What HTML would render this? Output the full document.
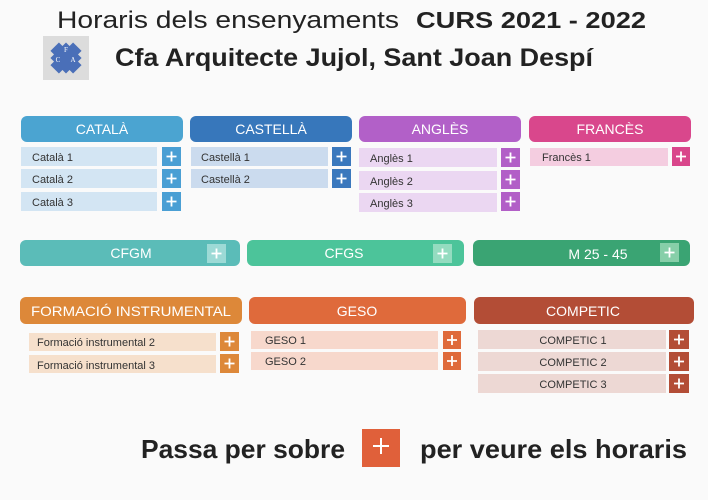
<!DOCTYPE html>
<html><head><meta charset="utf-8">
<style>
html,body{margin:0;padding:0;background:#fafafa;}
svg{display:block;font-family:"Liberation Sans",sans-serif;}
</style></head>
<body>
<svg width="708" height="500" viewBox="0 0 708 500" xmlns="http://www.w3.org/2000/svg">
<rect width="708" height="500" fill="#fafafa"/>
<defs>
<g id="plus"><path d="M-5 0H5M0 -5V5" stroke="#fff" stroke-width="1.8"/></g>
</defs>

<!-- Title -->
<text x="57" y="28" font-size="24" fill="#222" textLength="342" lengthAdjust="spacingAndGlyphs">Horaris dels ensenyaments</text>
<text x="416" y="28" font-size="23" font-weight="bold" fill="#222" textLength="230" lengthAdjust="spacingAndGlyphs">CURS 2021 - 2022</text>
<text x="115" y="66" font-size="25" font-weight="bold" fill="#222" textLength="478" lengthAdjust="spacingAndGlyphs">Cfa Arquitecte Jujol, Sant Joan Despí</text>
<!-- logo -->
<rect x="43" y="36" width="46" height="44" fill="#dcdcdc"/>
<g transform="translate(66,58) rotate(45)">
<rect x="-16" y="-6" width="32" height="12" fill="#4a6fb8"/>
<rect x="-6" y="-16" width="12" height="32" fill="#4a6fb8"/>
<rect x="-11" y="-11" width="22" height="22" fill="#4a6fb8"/>
</g>
<text x="66" y="52" font-size="7" fill="#fff" text-anchor="middle" font-family="Liberation Serif,serif">F</text>
<text x="58" y="62" font-size="7" fill="#fff" text-anchor="middle" font-family="Liberation Serif,serif">C</text>
<text x="73" y="62" font-size="7" fill="#fff" text-anchor="middle" font-family="Liberation Serif,serif">A</text>

<!-- Row 1 headers -->
<rect x="21" y="116" width="162" height="26" rx="6" fill="#4ba4d1"/>
<text x="102" y="134" font-size="14" fill="#fff" text-anchor="middle">CATALÀ</text>
<rect x="190" y="116" width="162" height="26" rx="6" fill="#3777bb"/>
<text x="271" y="134" font-size="14" fill="#fff" text-anchor="middle">CASTELLÀ</text>
<rect x="359" y="116" width="162" height="26" rx="6" fill="#b260c8"/>
<text x="440" y="134" font-size="14" fill="#fff" text-anchor="middle">ANGLÈS</text>
<rect x="529" y="116" width="162" height="26" rx="6" fill="#d9478c"/>
<text x="610" y="134" font-size="14" fill="#fff" text-anchor="middle">FRANCÈS</text>

<g font-size="11" fill="#333">
<!-- Català -->
<rect x="21" y="147" width="136" height="19" fill="#d3e5f3"/><text x="32" y="161">Català 1</text>
<rect x="162" y="147" width="19" height="19" fill="#4a9fd4"/><use href="#plus" x="171.5" y="156.5"/>
<rect x="21" y="169" width="136" height="19" fill="#d3e5f3"/><text x="32" y="183">Català 2</text>
<rect x="162" y="169" width="19" height="19" fill="#4a9fd4"/><use href="#plus" x="171.5" y="178.5"/>
<rect x="21" y="192" width="136" height="19" fill="#d3e5f3"/><text x="32" y="206">Català 3</text>
<rect x="162" y="192" width="19" height="19" fill="#4a9fd4"/><use href="#plus" x="171.5" y="201.5"/>
<!-- Castellà -->
<rect x="191" y="147" width="137" height="19" fill="#cbdbee"/><text x="201" y="161">Castellà 1</text>
<rect x="332" y="147" width="19" height="19" fill="#3a78bd"/><use href="#plus" x="341.5" y="156.5"/>
<rect x="191" y="169" width="137" height="19" fill="#cbdbee"/><text x="201" y="183">Castellà 2</text>
<rect x="332" y="169" width="19" height="19" fill="#3a78bd"/><use href="#plus" x="341.5" y="178.5"/>
<!-- Anglès -->
<rect x="359" y="148" width="138" height="19" fill="#ebd7f2"/><text x="370" y="162">Anglès 1</text>
<rect x="501" y="148" width="19" height="19" fill="#b25fc7"/><use href="#plus" x="510.5" y="157.5"/>
<rect x="359" y="171" width="138" height="19" fill="#ebd7f2"/><text x="370" y="185">Anglès 2</text>
<rect x="501" y="170" width="19" height="19" fill="#b25fc7"/><use href="#plus" x="510.5" y="179.5"/>
<rect x="359" y="193" width="138" height="19" fill="#ebd7f2"/><text x="370" y="207">Anglès 3</text>
<rect x="501" y="192" width="19" height="19" fill="#b25fc7"/><use href="#plus" x="510.5" y="201.5"/>
<!-- Francès -->
<rect x="530" y="148" width="138" height="18" fill="#f4cde0"/><text x="542" y="161">Francès 1</text>
<rect x="672" y="147" width="18" height="19" fill="#d9468b"/><use href="#plus" x="681" y="156.5"/>
</g>

<!-- Row 2 -->
<rect x="20" y="240" width="220" height="26" rx="6" fill="#5bbcb8"/>
<text x="131" y="258" font-size="14" fill="#fff" text-anchor="middle">CFGM</text>
<rect x="207" y="244" width="19" height="19" fill="#9ddad6"/><use href="#plus" x="216.5" y="253.5"/>
<rect x="247" y="240" width="217" height="26" rx="6" fill="#4cc49a"/>
<text x="344" y="258" font-size="14" fill="#fff" text-anchor="middle">CFGS</text>
<rect x="433" y="244" width="19" height="19" fill="#94dcc0"/><use href="#plus" x="442.5" y="253.5"/>
<rect x="473" y="240" width="217" height="26" rx="6" fill="#3aa473"/>
<text x="598" y="259" font-size="14" fill="#fff" text-anchor="middle">M 25 - 45</text>
<rect x="660" y="243" width="19" height="19" fill="#87cfa9"/><use href="#plus" x="669.5" y="252.5"/>

<!-- Row 3 -->
<rect x="20" y="297" width="222" height="27" rx="6" fill="#dd8839"/>
<text x="131" y="316" font-size="14" fill="#fff" text-anchor="middle" textLength="200" lengthAdjust="spacingAndGlyphs">FORMACIÓ INSTRUMENTAL</text>
<rect x="249" y="297" width="217" height="27" rx="6" fill="#df6a3b"/>
<text x="357" y="316" font-size="14" fill="#fff" text-anchor="middle">GESO</text>
<rect x="474" y="297" width="220" height="27" rx="6" fill="#b34d36"/>
<text x="583" y="316" font-size="14" fill="#fff" text-anchor="middle">COMPETIC</text>

<g font-size="11" fill="#333">
<rect x="29" y="333" width="187" height="18" fill="#f6e0cc"/><text x="37" y="346">Formació instrumental 2</text>
<rect x="220" y="332" width="19" height="19" fill="#dd8839"/><use href="#plus" x="229.5" y="341.5"/>
<rect x="29" y="355" width="187" height="18" fill="#f6e0cc"/><text x="37" y="369">Formació instrumental 3</text>
<rect x="220" y="354" width="19" height="19" fill="#dd8839"/><use href="#plus" x="229.5" y="363.5"/>

<rect x="251" y="331" width="187" height="18" fill="#f7d8cc"/><text x="265" y="344">GESO 1</text>
<rect x="443" y="331" width="18" height="18" fill="#df6a3b"/><use href="#plus" x="452" y="340"/>
<rect x="251" y="352" width="187" height="18" fill="#f7d8cc"/><text x="265" y="365">GESO 2</text>
<rect x="443" y="352" width="18" height="18" fill="#df6a3b"/><use href="#plus" x="452" y="361"/>

<rect x="478" y="330" width="188" height="19" fill="#edd8d4"/><text x="573" y="344" text-anchor="middle">COMPETIC 1</text>
<rect x="669" y="330" width="20" height="19" fill="#b34d36"/><use href="#plus" x="679" y="339.5"/>
<rect x="478" y="352" width="188" height="19" fill="#edd8d4"/><text x="573" y="366" text-anchor="middle">COMPETIC 2</text>
<rect x="669" y="352" width="20" height="19" fill="#b34d36"/><use href="#plus" x="679" y="361.5"/>
<rect x="478" y="374" width="188" height="19" fill="#edd8d4"/><text x="573" y="388" text-anchor="middle">COMPETIC 3</text>
<rect x="669" y="374" width="20" height="19" fill="#b34d36"/><use href="#plus" x="679" y="383.5"/>
</g>

<!-- Bottom -->
<text x="141" y="458" font-size="26" font-weight="bold" fill="#222" textLength="204" lengthAdjust="spacingAndGlyphs">Passa per sobre</text>
<rect x="362" y="429" width="38" height="38" fill="#e0603a"/>
<path d="M373 446H389M381 438V454" stroke="#fff" stroke-width="2"/>
<text x="420" y="458" font-size="26" font-weight="bold" fill="#222" textLength="267" lengthAdjust="spacingAndGlyphs">per veure els horaris</text>
</svg>
</body></html>
